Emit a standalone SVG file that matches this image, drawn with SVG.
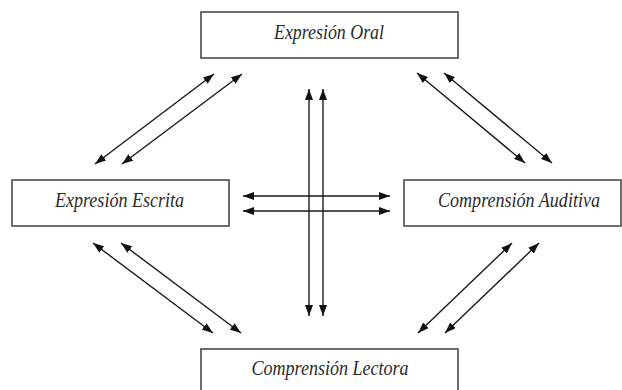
<svg xmlns="http://www.w3.org/2000/svg" width="622" height="390" viewBox="0 0 622 390">
<style>
.box{fill:#fff;stroke:#555;stroke-width:1.7}
.lbl{font-family:"Liberation Serif","Times New Roman",serif;font-style:italic;font-size:20px;fill:#2a2a2a;text-anchor:middle}
.arr{stroke:#1a1a1a;stroke-width:1.4;fill:none;marker-start:url(#ah);marker-end:url(#ah)}
</style>
<defs>
<marker id="ah" viewBox="0 0 11 8" refX="11" refY="4" markerWidth="11" markerHeight="8" markerUnits="userSpaceOnUse" orient="auto-start-reverse">
<path d="M0,0 L11,4 L0,8 z" fill="#111"/>
</marker>
</defs>
<rect width="622" height="390" fill="#fff"/>
<g id="connectors">
<line class="arr" x1="95" y1="164" x2="214" y2="74"/>
<line class="arr" x1="122" y1="164" x2="242" y2="74"/>
<line class="arr" x1="417" y1="73" x2="525" y2="163"/>
<line class="arr" x1="444" y1="73" x2="552" y2="163"/>
<line class="arr" x1="93" y1="243" x2="213" y2="333"/>
<line class="arr" x1="121" y1="243" x2="241" y2="333"/>
<line class="arr" x1="512" y1="243" x2="418" y2="333"/>
<line class="arr" x1="539" y1="243" x2="445" y2="333"/>
<line class="arr" x1="309" y1="89" x2="309" y2="316"/>
<line class="arr" x1="323" y1="89" x2="323" y2="316"/>
<line class="arr" x1="243" y1="196" x2="390" y2="196"/>
<line class="arr" x1="243" y1="211" x2="390" y2="211"/>
</g>
<g id="node-oral">
<rect class="box" x="201" y="12" width="257" height="46"/>
<text class="lbl" x="329" y="39" textLength="110" lengthAdjust="spacingAndGlyphs">Expresión Oral</text>
</g>
<g id="node-escrita">
<rect class="box" x="12" y="180" width="217" height="46"/>
<text class="lbl" x="119.5" y="207" textLength="129" lengthAdjust="spacingAndGlyphs">Expresión Escrita</text>
</g>
<g id="node-auditiva">
<rect class="box" x="404" y="180" width="217" height="46"/>
<text class="lbl" x="519" y="207" textLength="162" lengthAdjust="spacingAndGlyphs">Comprensión Auditiva</text>
</g>
<g id="node-lectora">
<rect class="box" x="201" y="349" width="257" height="46"/>
<text class="lbl" x="330" y="375" textLength="157" lengthAdjust="spacingAndGlyphs">Comprensión Lectora</text>
</g>
</svg>
